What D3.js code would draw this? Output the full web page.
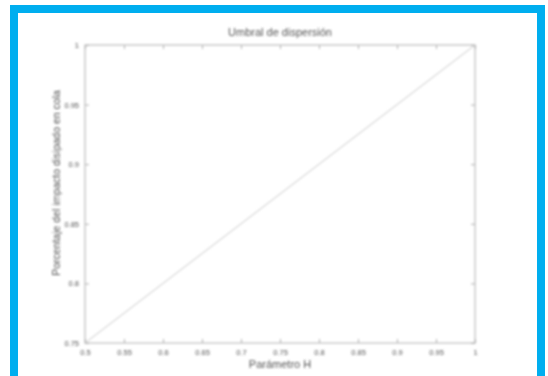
<!DOCTYPE html>
<html>
<head>
<meta charset="utf-8">
<script src="https://cdn.jsdelivr.net/npm/d3@7"></script>
<style>
  html, body { margin: 0; padding: 0; background: #fff; }
  svg { display: block; }
</style>
</head>
<body>
<svg id="chart" width="548" height="376"></svg>
<script>
// Dispersion threshold: share of impact dissipated in the tail vs. parameter H
const paramH = [0.5, 1.0];
const dissipated = [0.75, 1.0];
const xTicks = [0.5, 0.55, 0.6, 0.65, 0.7, 0.75, 0.8, 0.85, 0.9, 0.95, 1];
const xTickLabels = ["0.5", "0.55", "0.6", "0.65", "0.7", "0.75", "0.8", "0.85", "0.9", "0.95", "1"];
const yTicks = [0.75, 0.8, 0.85, 0.9, 0.95, 1];
const yTickLabels = ["0.75", "0.8", "0.85", "0.9", "0.95", "1"];

const svg = d3.select("#chart");
const W = 548, H = 376;

// outer blue frame
svg.append("rect").attr("x", 0).attr("y", 0).attr("width", W).attr("height", H).attr("fill", "#fff");
svg.append("rect").attr("x", 10).attr("y", 5).attr("width", 535).attr("height", 380).attr("fill", "#00aeef");
svg.append("rect").attr("x", 18).attr("y", 13).attr("width", 519).attr("height", 380).attr("fill", "#fff");

const defs = svg.append("defs");
defs.append("filter").attr("id", "soft")
  .append("feGaussianBlur").attr("stdDeviation", 0.9);

const m = { left: 85, right: 475, top: 45, bottom: 343 };
const x = d3.scaleLinear().domain([0.5, 1]).range([m.left, m.right]);
const y = d3.scaleLinear().domain([0.75, 1]).range([m.bottom, m.top]);

const g = svg.append("g").attr("filter", "url(#soft)");
const axisColor = "#b0b0b0";
const textColor = "#555";
const font = "Liberation Sans, Arial, sans-serif";

// box
g.append("rect")
  .attr("x", m.left).attr("y", m.top)
  .attr("width", m.right - m.left).attr("height", m.bottom - m.top)
  .attr("fill", "none").attr("stroke", axisColor).attr("stroke-width", 1);

const fmtX = (d, i) => xTickLabels[i];
const fmtY = (d, i) => yTickLabels[i];

function style(sel) {
  sel.select(".domain").remove();
  sel.selectAll("line").attr("stroke", axisColor);
  sel.selectAll("text").attr("fill", textColor).attr("font-family", font).attr("font-size", 7.5);
}

// bottom axis with inward ticks
g.append("g").attr("transform", `translate(0,${m.bottom})`)
  .call(d3.axisBottom(x).tickValues(xTicks).tickFormat(fmtX).tickSizeInner(-4).tickPadding(7))
  .call(style);
// top axis ticks
g.append("g").attr("transform", `translate(0,${m.top})`)
  .call(d3.axisTop(x).tickValues(xTicks).tickFormat("").tickSizeInner(-4))
  .call(style);
// left axis
g.append("g").attr("transform", `translate(${m.left},0)`)
  .call(d3.axisLeft(y).tickValues(yTicks).tickFormat(fmtY).tickSizeInner(-4).tickPadding(6))
  .call(style);
// right axis ticks
g.append("g").attr("transform", `translate(${m.right},0)`)
  .call(d3.axisRight(y).tickValues(yTicks).tickFormat("").tickSizeInner(-4))
  .call(style);

// data line
const pts = paramH.map((h, i) => [h, dissipated[i]]);
g.append("path")
  .datum(pts)
  .attr("fill", "none")
  .attr("stroke", "#c8c8c8")
  .attr("stroke-width", 1)
  .attr("d", d3.line().x(d => x(d[0])).y(d => y(d[1])));

// title and axis labels
g.append("text").attr("x", 280).attr("y", 36)
  .attr("text-anchor", "middle").attr("font-family", font).attr("font-size", 11)
  .attr("fill", textColor).text("Umbral de dispersión");
g.append("text").attr("x", 280).attr("y", 368)
  .attr("text-anchor", "middle").attr("font-family", font).attr("font-size", 11)
  .attr("fill", textColor).text("Parámetro H");
g.append("text")
  .attr("transform", `translate(60,183) rotate(-90)`)
  .attr("text-anchor", "middle").attr("font-family", font).attr("font-size", 10.5)
  .attr("fill", textColor).text("Porcentaje del impacto disipado en cola");
</script>
</body>
</html>
